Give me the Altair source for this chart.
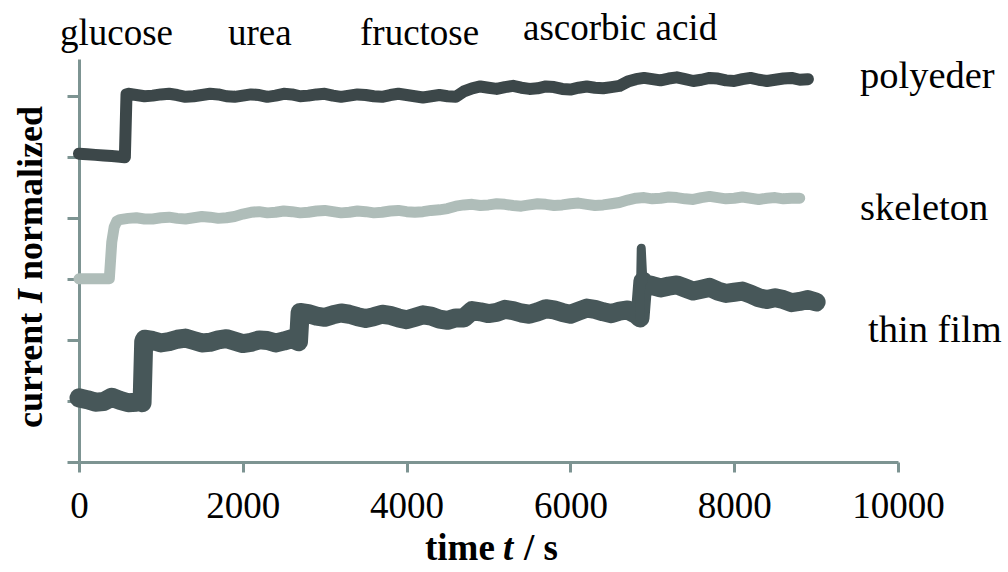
import altair as alt
import pandas as pd

# ---------------- data ----------------
STEP = 100  # s between regular samples, starting at t = 0

# polyeder: t = 0 .. 8900 s
poly_vals = [5.05, 5.04, 5.03, 5.02, 5.01, 5.00,
             6.03, 6.01, 5.99, 6.00, 6.02, 6.03, 6.01, 5.98, 5.99, 6.01,
             6.03, 6.02, 5.99, 5.98, 6.00, 6.02, 6.01, 5.98, 6.00, 6.03,
             6.02, 5.99, 6.00, 6.02, 6.03, 6.00, 5.98, 6.00, 6.02, 6.01,
             5.99, 5.98, 6.01, 6.03, 6.01, 5.99, 5.97, 5.99, 6.01, 5.99, 5.98,
             6.07, 6.12, 6.15, 6.13, 6.11, 6.14, 6.16, 6.13, 6.11, 6.12,
             6.15, 6.14, 6.11, 6.10, 6.13, 6.15, 6.13, 6.12, 6.14, 6.16,
             6.23, 6.27, 6.29, 6.27, 6.25, 6.28, 6.30, 6.27, 6.24, 6.26,
             6.29, 6.28, 6.25, 6.24, 6.27, 6.29, 6.26, 6.24, 6.26, 6.28,
             6.29, 6.26, 6.27]
poly_extra_t = [560, 580]
poly_extra_v = [4.99, 6.02]

# skeleton: t = 0 .. 8800 s
skel_vals = [3.00, 3.00, 3.00, 3.00, 3.60,
             3.97, 3.99, 4.00, 3.98, 3.98, 4.00, 4.01, 3.99, 3.98, 4.00,
             4.02, 4.01, 3.99, 4.00, 4.02,
             4.06, 4.09, 4.10, 4.08, 4.09, 4.11, 4.10, 4.08, 4.09, 4.11,
             4.12, 4.10, 4.08, 4.09, 4.11, 4.10, 4.08, 4.09, 4.11, 4.12,
             4.10, 4.09, 4.10, 4.12, 4.13, 4.15,
             4.19, 4.21, 4.22, 4.20, 4.21, 4.23, 4.22, 4.20, 4.19, 4.21,
             4.23, 4.22, 4.20, 4.21, 4.23, 4.24, 4.22, 4.20, 4.21, 4.23, 4.25,
             4.29, 4.32, 4.33, 4.31, 4.32, 4.34, 4.33, 4.31, 4.30, 4.33,
             4.35, 4.33, 4.31, 4.32, 4.34, 4.32, 4.30, 4.32, 4.33, 4.31,
             4.32, 4.32]
skel_extra_t = [370, 430, 460]
skel_extra_v = [3.00, 3.85, 3.94]

# thin film: t = 0 .. 9000 s
thin_vals = [1.05, 1.02, 0.98, 0.99, 1.06, 1.01, 0.97, 0.98,
             2.01, 1.99, 1.95, 1.97, 2.01, 2.03, 1.99, 1.95, 1.96, 2.00,
             2.02, 1.98, 1.94, 1.96, 2.00, 1.99, 1.95, 1.98, 2.02,
             2.45, 2.43, 2.39, 2.37, 2.41, 2.44, 2.42, 2.38, 2.35, 2.38,
             2.42, 2.40, 2.36, 2.33, 2.37, 2.41, 2.39, 2.34, 2.32, 2.36, 2.36,
             2.48, 2.46, 2.43, 2.45, 2.50, 2.48, 2.44, 2.42, 2.46, 2.51,
             2.49, 2.45, 2.42, 2.47, 2.52, 2.50, 2.46, 2.43, 2.47, 2.49, 2.42,
             2.92, 2.89, 2.85, 2.88, 2.90, 2.85, 2.80, 2.83, 2.86, 2.80,
             2.76, 2.78, 2.80, 2.75, 2.69, 2.66, 2.69, 2.66, 2.61, 2.63,
             2.66, 2.62]
thin_extra_t = [740, 770, 790, 2680, 6850, 6865, 6885]
thin_extra_v = [1.02, 0.97, 1.97, 1.97, 2.36, 3.50, 2.96]
thin_spike_t = 6865  # sharp transient drawn with a narrow stroke

series_names = ["polyeder", "skeleton", "thin film"]
series_colors = ["#3c4749", "#afbdb9", "#475759"]
series_widths = [12, 11, 19]
spike_width = 9

x_ticks = [0, 2000, 4000, 6000, 8000, 10000]
y_ticks = [0, 1, 2, 3, 4, 5, 6]

analytes = ["glucose", "urea", "fructose", "ascorbic acid"]


def frame(name, vals, et, ev):
    t = [i * STEP for i in range(len(vals))] + list(et)
    v = list(vals) + list(ev)
    return pd.DataFrame({"t": t, "v": v, "series": name}).sort_values("t")


poly_df = frame("polyeder", poly_vals, poly_extra_t, poly_extra_v)
skel_df = frame("skeleton", skel_vals, skel_extra_t, skel_extra_v)
thin_df = frame("thin film", thin_vals, thin_extra_t, thin_extra_v)
thin_main = thin_df[thin_df["t"] != thin_spike_t]
thin_spike = thin_df[(thin_df["t"] >= thin_spike_t - 20) & (thin_df["t"] <= thin_spike_t + 20)]

# ---------------- layout ----------------
LEFT, TOP, W, H = 79, 59, 819, 403
AXIS = "#7d9492"
FONT = "Liberation Serif"

x_enc = alt.X("t:Q", scale=alt.Scale(domain=[0, 10000], nice=False),
              axis=alt.Axis(values=x_ticks, title=None, grid=False, tickSize=10,
                            labelFontSize=37, labelFont=FONT, labelColor="black",
                            labelBaseline="alphabetic", labelPadding=45,
                            labelFlush=False, format="d"))
y_enc = alt.Y("v:Q", scale=alt.Scale(domain=[0, 6.6], nice=False),
              axis=alt.Axis(values=y_ticks, title=None, grid=False, labels=False,
                            tickSize=12))


def line(fr, col, sw):
    return alt.Chart(fr).mark_line(color=col, strokeWidth=sw, strokeCap="round",
                                   strokeJoin="round").encode(x=x_enc, y=y_enc)


layers = [
    line(poly_df, series_colors[0], series_widths[0]),
    line(skel_df, series_colors[1], series_widths[1]),
    line(thin_main, series_colors[2], series_widths[2]),
    line(thin_spike, series_colors[2], spike_width),
]


def label(text, px, py, size=37, weight="normal", style="normal", angle=0):
    kw = dict(font=FONT, fontSize=size, color="black", align="left",
              baseline="alphabetic", fontWeight=weight, fontStyle=style)
    if angle:
        kw["angle"] = angle
    return alt.Chart(pd.DataFrame({"s": [text]})).mark_text(**kw).encode(
        text="s:N", x=alt.value(px - LEFT), y=alt.value(py - TOP))


# page-pixel anchors for the annotations
top_pos = [(60, 45), (228, 45), (360, 45), (523, 40)]
right_pos = [(860, 88), (860, 220), (868, 342)]

for name, (px, py) in zip(analytes, top_pos):
    layers.append(label(name, px, py, size=37))
for name, (px, py) in zip(series_names, right_pos):
    layers.append(label(name, px, py, size=38.5))

# x-axis title: time t / s
layers.append(label("time", 425, 560, size=37, weight="bold"))
layers.append(label("t", 503, 560, size=37, weight="bold", style="italic"))
layers.append(label("/ s", 524, 560, size=37, weight="bold"))
# y-axis title: current I normalized (rotated)
layers.append(label("current", 42, 428, size=36, weight="bold", angle=270))
layers.append(label("I", 42, 303, size=36, weight="bold", style="italic", angle=270))
layers.append(label("normalized", 42, 280, size=36, weight="bold", angle=270))

chart = alt.layer(*layers).properties(
    width=W, height=H,
    autosize=alt.AutoSizeParams(type="none"),
    padding={"left": LEFT, "top": TOP, "right": 1008 - LEFT - W, "bottom": 572 - TOP - H},
    background="white",
).configure_view(stroke=None).configure_axis(
    domainColor=AXIS, domainWidth=3, tickColor=AXIS, tickWidth=3,
)

chart.save("out.html", embed_options={"renderer": "svg", "actions": False})
